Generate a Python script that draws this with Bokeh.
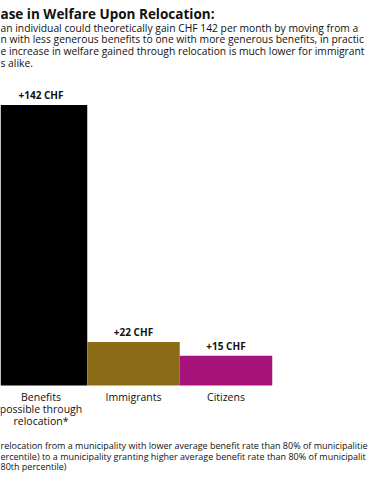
from bokeh.plotting import figure
from bokeh.models import Range1d, Label, ColumnDataSource
from bokeh.core.properties import value
from bokeh.embed import file_html
from bokeh.resources import INLINE

# ---- data ----
categories = ["Benefits possible through relocation*", "Immigrants", "Citizens"]
cat_lines = [["Benefits", "possible through", "relocation*"], ["Immigrants"], ["Citizens"]]
gains = [142, 22, 15]
value_labels = ["+142 CHF", "+22 CHF", "+15 CHF"]
colors = ["#000000", "#8B6A18", "#A5127A"]

title_text = "ase in Welfare Upon Relocation:"
subtitle_lines = [
    "an individual could theoretically gain CHF 142 per month by moving from a",
    "n with less generous benefits to one with more generous benefits, in practic",
    "e increase in welfare gained through relocation is much lower for immigrant",
    "s alike.",
]
footnote_lines = [
    "relocation from a municipality with lower average benefit rate than 80% of municipalitie",
    "ercentile) to a municipality granting higher average benefit rate than 80% of municipalit",
    "80th percentile)",
]

W, H = 370, 480
FONT = "Open Sans"
unit = 92.5
x0 = -40.5 / unit
base_px = 385.0
scale = (base_px - 104.5) / 142.0

p = figure(width=W, height=H, output_backend="svg", toolbar_location=None,
           x_range=Range1d(x0, x0 + W / unit),
           y_range=Range1d(-(H - base_px) / scale, base_px / scale),
           min_border=0, min_border_left=0, min_border_right=0,
           min_border_top=0, min_border_bottom=0)
p.axis.visible = False
p.grid.visible = False
p.outline_line_color = None
p.background_fill_color = "white"
p.border_fill_color = "white"

xs = list(range(len(categories)))
src = ColumnDataSource(dict(x=xs, top=gains, color=colors, lab=value_labels))
p.vbar(x="x", top="top", bottom=0, width=1.0, fill_color="color", line_color=None, source=src)

p.text(x="x", y="top", text="lab", source=src, text_align="center", text_baseline="bottom",
       y_offset=-3, text_font=value(FONT), text_font_size="10px", text_font_style="bold",
       text_color="#111111")

for i, lines in enumerate(cat_lines):
    for j, ln in enumerate(lines):
        p.text(x=[xs[i]], y=[0], text=[ln], text_align="center", text_baseline="middle",
               y_offset=11 + 12 * j, text_font=value(FONT), text_font_size="10.5px",
               text_color="#111111")

p.add_layout(Label(x=0, y=H - 13.5, x_units="screen", y_units="screen", text=title_text,
                   text_font=FONT, text_font_size="13.5px", text_font_style="bold",
                   text_baseline="middle", text_color="#111111"))
for j, ln in enumerate(subtitle_lines):
    p.add_layout(Label(x=0, y=H - (27.3 + 11.6 * j), x_units="screen", y_units="screen",
                       text=ln, text_font=FONT, text_font_size="10.3px",
                       text_baseline="middle", text_color="#111111"))
for j, ln in enumerate(footnote_lines):
    p.add_layout(Label(x=0, y=H - (445 + 10.5 * j), x_units="screen", y_units="screen",
                       text=ln, text_font=FONT, text_font_size="9px",
                       text_baseline="middle", text_color="#111111"))

open("out.html", "w").write(file_html(p, INLINE))
